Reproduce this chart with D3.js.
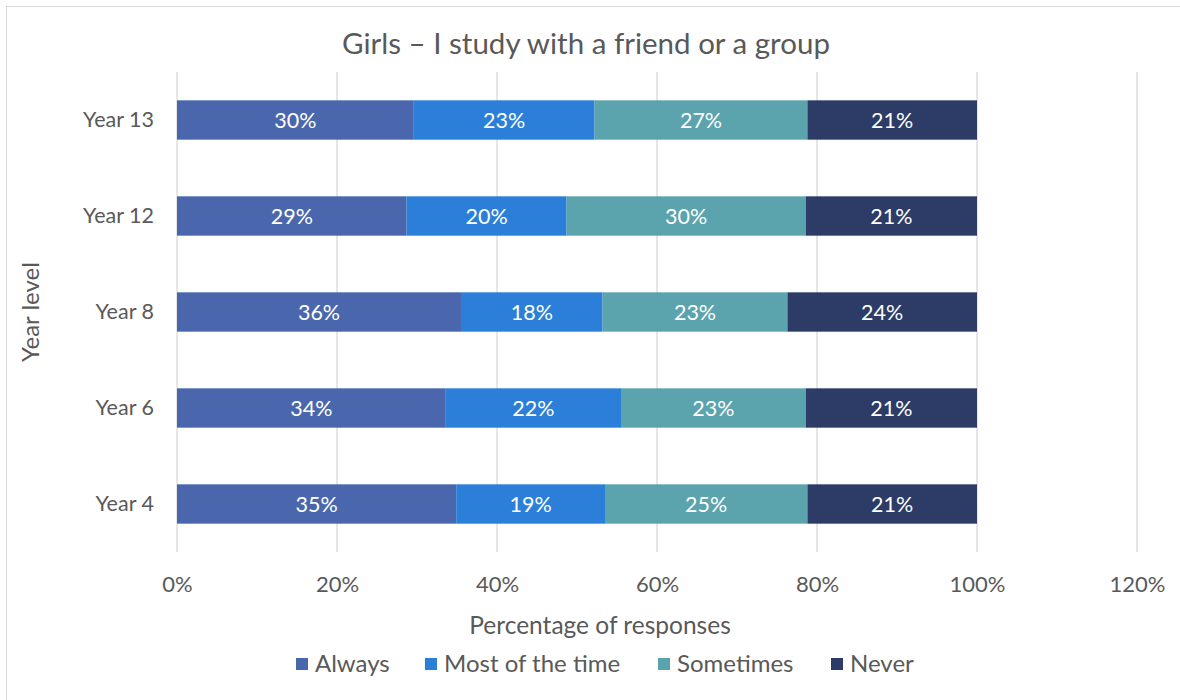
<!DOCTYPE html>
<html>
<head>
<meta charset="utf-8">
<script src="https://d3js.org/d3.v7.min.js"></script>
<style>
  body { margin: 0; background: #fff; }
  text { font-family: Lato, "Noto Sans", sans-serif; fill: #595959; }
</style>
</head>
<body>
<div id="chart"></div>
<script>
// year levels, top to bottom
var years = ["Year 13", "Year 12", "Year 8", "Year 6", "Year 4"];
var series = ["Always", "Most of the time", "Sometimes", "Never"];
var colors = ["#4a67ae", "#2b7fd8", "#5ba3ad", "#2c3c66"];

// percentages per series, in the order of years
var always    = [29.6, 28.7, 35.5, 33.6, 34.9];
var mostTime  = [22.6, 20.0, 17.7, 21.9, 18.6];
var sometimes = [26.6, 29.9, 23.1, 23.1, 25.3];
var never     = [21.2, 21.4, 23.7, 21.4, 21.2];

var xTicks = [0, 20, 40, 60, 80, 100, 120];

(function(){
  "use strict";
  var width = 1180, height = 700;
  var left = 177, right = 1137, top = 72, bottom = 552;

  var svg = d3.select("#chart").append("svg")
      .attr("width", width)
      .attr("height", height);

  // chart border
  svg.append("rect")
      .attr("x", 6.5).attr("y", 6.5)
      .attr("width", 1200).attr("height", 720)
      .attr("fill", "#fff")
      .attr("stroke", "#d9d9d9");

  var x = d3.scaleLinear().domain([0, 120]).range([left, right]);
  var y = d3.scaleBand().domain(years).range([top, bottom]).paddingInner(0.59).paddingOuter(0.295);

  // gridlines
  svg.append("g").selectAll("line")
      .data(xTicks)
      .enter().append("line")
      .attr("x1", function(d){ return x(d); })
      .attr("x2", function(d){ return x(d); })
      .attr("y1", top).attr("y2", bottom)
      .attr("stroke", "#d9d9d9").attr("stroke-width", 1.3);

  // build rows and stack them
  var rows = years.map(function(yr, i){
    return { year: yr, "Always": always[i], "Most of the time": mostTime[i], "Sometimes": sometimes[i], "Never": never[i] };
  });
  var stacked = d3.stack().keys(series)(rows);

  var layers = svg.append("g").selectAll("g")
      .data(stacked)
      .enter().append("g")
      .attr("fill", function(d, i){ return colors[i]; });

  layers.selectAll("rect")
      .data(function(d){ return d; })
      .enter().append("rect")
      .attr("x", function(d){ return x(d[0]); })
      .attr("y", function(d){ return y(d.data.year); })
      .attr("width", function(d){ return x(d[1]) - x(d[0]); })
      .attr("height", y.bandwidth());

  layers.selectAll("text")
      .data(function(d){ return d; })
      .enter().append("text")
      .attr("x", function(d){ return (x(d[0]) + x(d[1])) / 2; })
      .attr("y", function(d){ return y(d.data.year) + y.bandwidth() / 2; })
      .attr("dy", "0.35em")
      .attr("text-anchor", "middle")
      .style("fill", "#fff")
      .style("font-size", "21.5px")
      .text(function(d){ return Math.round(d[1] - d[0]) + "%"; });

  // axes (no domain lines / ticks, just labels)
  var xAxis = d3.axisBottom(x).tickValues(xTicks).tickSize(0).tickPadding(0)
      .tickFormat(function(d){ return d + "%"; });
  var gx = svg.append("g")
      .attr("transform", "translate(0," + 592 + ")")
      .call(xAxis);
  gx.select(".domain").remove();
  gx.selectAll("text").style("font-size", "22px").style("font-family", null).attr("dy", "0");

  var yAxis = d3.axisLeft(y).tickSize(0).tickPadding(23);
  var gy = svg.append("g")
      .attr("transform", "translate(" + left + ",0)")
      .call(yAxis);
  gy.select(".domain").remove();
  gy.selectAll("text").style("font-size", "21.5px").style("font-family", null);

  // titles
  svg.append("text")
      .attr("x", 586).attr("y", 54)
      .attr("text-anchor", "middle")
      .style("font-size", "29.5px")
      .text("Girls \u2013 I study with a friend or a group");

  svg.append("text")
      .attr("text-anchor", "middle")
      .attr("transform", "translate(" + 600 + "," + 634 + ")")
      .style("font-size", "24.5px")
      .text("Percentage of responses");

  svg.append("text")
      .attr("text-anchor", "middle")
      .attr("transform", "translate(" + 39 + "," + 312 + ")rotate(-90)")
      .style("font-size", "24px")
      .text("Year level");

  // legend
  var legendX = [296, 425, 658, 831];
  var legend = svg.append("g").selectAll("g")
      .data(series)
      .enter().append("g")
      .attr("transform", function(d, i){ return "translate(" + legendX[i] + ",664)"; });
  legend.append("rect")
      .attr("x", 0).attr("y", -6)
      .attr("width", 12).attr("height", 12)
      .attr("fill", function(d, i){ return colors[i]; });
  legend.append("text")
      .attr("x", 19).attr("dy", "0.35em")
      .style("font-size", "24px")
      .text(function(d){ return d; });
})();
</script>
</body>
</html>
